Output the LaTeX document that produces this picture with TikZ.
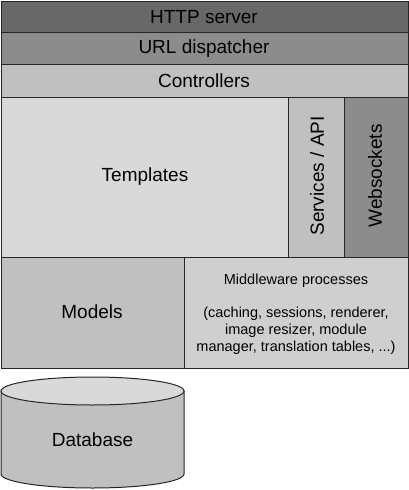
\documentclass[tikz,border=0pt]{standalone}
\usepackage{fontspec}
\setmainfont{Liberation Sans}
\begin{document}
\begin{tikzpicture}[x=1pt,y=-1pt,
  layer/.style={draw=black!85,line width=1pt,rectangle,inner sep=0pt,anchor=north west},
  lbl/.style={inner sep=0pt,font=\fontsize{19}{22}\selectfont}]
\useasboundingbox (0,0) rectangle (409,490);
\definecolor{gA}{HTML}{686868}
\definecolor{gB}{HTML}{8C8C8C}
\definecolor{gC}{HTML}{C0C0C0}
\definecolor{gD}{HTML}{D9D9D9}
\definecolor{gE}{HTML}{CFCFCF}
\node[layer,fill=gA,minimum width=407.5pt,minimum height=31.5pt] (http) at (0.5,0.5) {};
\node[lbl] (httpt) at (204,17) {HTTP server};
\node[layer,fill=gB,minimum width=407.5pt,minimum height=32pt] (url) at (0.5,32) {};
\node[lbl] (urlt) at (204,48.5) {URL dispatcher};
\node[layer,fill=gC,minimum width=407.5pt,minimum height=33pt] (ctrl) at (0.5,64) {};
\node[lbl] (ctrlt) at (204,81) {Controllers};
\node[layer,fill=gD,minimum width=287.5pt,minimum height=160pt] (templ) at (0.5,97) {};
\node[lbl] (templt) at (145,177) {Templates};
\node[layer,fill=gC,minimum width=56pt,minimum height=160pt] (serv) at (288,97) {};
\node[lbl,rotate=90] (servt) at (317,176) {Services / API};
\node[layer,fill=gB,minimum width=64pt,minimum height=160pt] (ws) at (344,97) {};
\node[lbl,rotate=90] (wst) at (375,176) {Websockets};
\node[layer,fill=gC,minimum width=183.5pt,minimum height=111pt] (models) at (0.5,257) {};
\node[lbl] (modelst) at (92,312) {Models};
\node[layer,fill=gE,minimum width=224pt,minimum height=111pt] (mid) at (184,257) {};
\node[inner sep=0pt,align=center,font=\fontsize{14.5}{16.7}\selectfont] (midtxt) at (296,314)
  {Middleware processes\\[16.7pt](caching, sessions, renderer,\\image resizer, module\\manager, translation tables, ...)};
% database cylinder
\filldraw[fill=gC,draw=black!85,line width=1pt] (1,391) -- (1,474)
  arc[start angle=180,end angle=360,x radius=91.5pt,y radius=14pt] -- (184,391) -- cycle;
\filldraw[fill=gD,draw=black!85,line width=1pt] (92.5,391) ellipse [x radius=91.5pt,y radius=14pt];
\node[lbl] (db) at (92.5,440) {Database};
\end{tikzpicture}
\end{document}
